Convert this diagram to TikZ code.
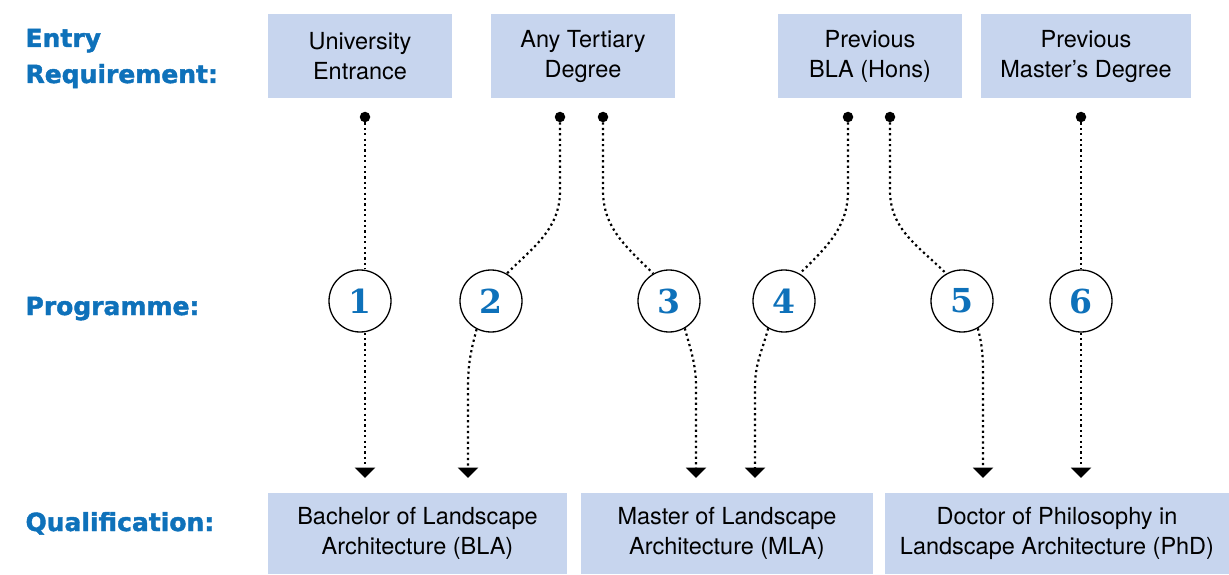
\documentclass[tikz,border=0pt]{standalone}
\usepackage{fontspec}
\usepackage{tikz}
\usepackage{xcolor}
\setsansfont{TeX Gyre Heros}
\newfontfamily\labfont{DejaVu Sans}[BoldFeatures={FakeBold=1.6}]
\newfontfamily\numfont{DejaVu Serif}
\usetikzlibrary{positioning, arrows.meta}
\definecolor{boxblue}{RGB}{199,213,238}
\definecolor{labblue}{RGB}{14,113,186}
\tikzset{point/.style={circle,fill=black,inner sep=0pt,minimum size=10.5pt}}
\tikzset{req/.style={fill=boxblue,minimum width=184pt,minimum height=84pt,inner sep=0pt,align=center,font=\sffamily\fontsize{23.5}{30}\selectfont}}
\tikzset{qual/.style={req,minimum height=81pt}}
\tikzset{prog/.style={circle,draw=black,fill=white,line width=1.3pt,minimum size=62pt,inner sep=0pt,text=labblue,font=\numfont\bfseries\fontsize{33}{33}\selectfont}}
\tikzset{rowlabel/.style={anchor=base west,align=left,text=labblue,font=\labfont\bfseries\fontsize{25}{36}\selectfont}}
\tikzset{link/.style={line width=2.2pt,dash pattern=on 2.2pt off 3.2pt}}
\tikzset{flow/.style={link,-{Triangle[width=20pt,length=10.5pt]}}}

\begin{document}
\begin{tikzpicture}[x=1pt,y=1pt]
      \useasboundingbox (0,0) rectangle (1229,574);

      \node[rowlabel] (lentry) at (22,491) {Entry\\Requirement:};
      \node[rowlabel] (lprog) at (22,259) {Programme:};
      \node[rowlabel] (lqual) at (22,43) {Qualification:};

      \node[req] (ur) at (360,518) {University\\Entrance};
      \node[req] (atd) at (583,518) {Any Tertiary\\Degree};
      \node[req] (pbla) at (870,518) {Previous\\BLA (Hons)};
      \node[req,minimum width=210pt] (pmd) at (1086,518) {Previous\\Master’s Degree};

      \node[qual,minimum width=299pt] (bla) at (417.5,40.5) {Bachelor of Landscape\\Architecture (BLA)};
      \node[qual,minimum width=292pt] (mla) at (727,40.5) {Master of Landscape\\Architecture (MLA)};
      \node[qual,minimum width=344pt] (phd) at (1057,40.5) {Doctor of Philosophy in\\Landscape Architecture (PhD)};

      \node[prog] (p1) at (360,273) {1};
      \node[prog] (p2) at (491,273) {2};
      \node[prog] (p3) at (669,273) {3};
      \node[prog] (p4) at (784,273) {4};
      \node[prog] (p5) at (962,273) {5};
      \node[prog] (p6) at (1081,273) {6};

      \node[point] (s1) at (365,457) {};
      \node[point] (s2) at (560,457) {};
      \node[point] (s3) at (603,457) {};
      \node[point] (s4) at (848,457) {};
      \node[point] (s5) at (890,457) {};
      \node[point] (s6) at (1081,457) {};

      \coordinate (a1) at (365,96);
      \coordinate (a2) at (468,96);
      \coordinate (a3) at (696,96);
      \coordinate (a4) at (755,96);
      \coordinate (a5) at (983,96);
      \coordinate (a6) at (1081,96);

      % entry -> programme
      \draw[link] (s1) -- (s1 |- p1.north);
      \draw[link] (s2.south) -- ++(0,-68) to[out=-90,in=45] (p2.60);
      \draw[link] (s3.south) -- ++(0,-68) to[out=-90,in=135] (p3.120);
      \draw[link] (s4.south) -- ++(0,-68) to[out=-90,in=45] (p4.60);
      \draw[link] (s5.south) -- ++(0,-68) to[out=-90,in=135] (p5.120);
      \draw[link] (s6) -- (p6);

      % programme -> qualification
      \draw[flow] (s1 |- p1.south) -- (a1);
      \draw[flow] (p2.243) to[out=-105,in=90] ([yshift=91pt]a2) -- (a2);
      \draw[flow] (p3.-60) to[out=-75,in=90] ([yshift=91pt]a3) -- (a3);
      \draw[flow] (p4.240) to[out=-105,in=90] ([yshift=91pt]a4) -- (a4);
      \draw[flow] (p5.-60) to[out=-75,in=90] ([yshift=91pt]a5) -- (a5);
      \draw[flow] (p6) -- (a6);
\end{tikzpicture}
\end{document}
